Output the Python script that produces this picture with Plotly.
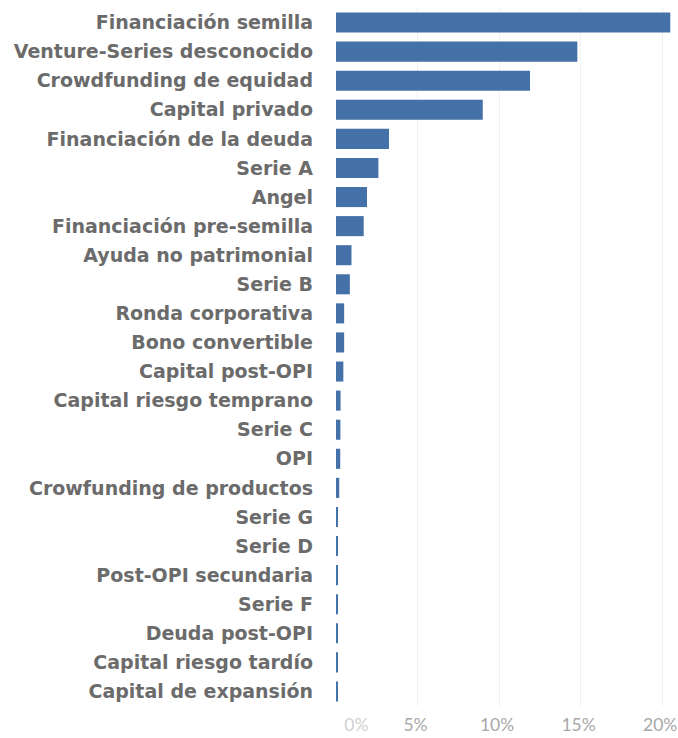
import plotly.graph_objects as go

# Funding round types and their share of total rounds (%)
categories = [
    "Financiación semilla",
    "Venture-Series desconocido",
    "Crowdfunding de equidad",
    "Capital privado",
    "Financiación de la deuda",
    "Serie A",
    "Angel",
    "Financiación pre-semilla",
    "Ayuda no patrimonial",
    "Serie B",
    "Ronda corporativa",
    "Bono convertible",
    "Capital post-OPI",
    "Capital riesgo temprano",
    "Serie C",
    "OPI",
    "Crowfunding de productos",
    "Serie G",
    "Serie D",
    "Post-OPI secundaria",
    "Serie F",
    "Deuda post-OPI",
    "Capital riesgo tardío",
    "Capital de expansión",
]
shares = [20.5, 14.8, 11.9, 9.0, 3.25, 2.6, 1.9, 1.7, 0.95, 0.85, 0.5, 0.5,
          0.45, 0.28, 0.27, 0.26, 0.2, 0.12, 0.12, 0.11, 0.1, 0.1, 0.09, 0.08]

tick_values = [0, 5, 10, 15, 20]
tick_names = ["0%", "5%", "10%", "15%", "20%"]

# first label sits right of the zero line and is drawn lighter
NBSP = "\u00a0"
tick_labels = list(tick_names)
tick_labels[0] = f'<span style="color:#d0d0d0">{NBSP * 10}{tick_names[0]}</span>'

fig = go.Figure(
    go.Bar(
        x=shares,
        y=categories,
        orientation="h",
        marker=dict(color="#4571a9", line=dict(width=0)),
        width=0.69,
    )
)

fig.update_layout(
    width=678,
    height=738,
    margin=dict(l=336, r=2, t=8, b=32),
    paper_bgcolor="white",
    plot_bgcolor="white",
    showlegend=False,
    bargap=0.31,
)

fig.update_yaxes(
    autorange="reversed",
    automargin=False,
    showgrid=False,
    showline=False,
    ticks="",
    ticklabelstandoff=22,
    tickfont=dict(family="DejaVu Sans", size=19, color="#6b6b6b", weight="bold"),
)

fig.update_xaxes(
    range=[0, 20.85],
    automargin=False,
    tickvals=tick_values,
    ticktext=tick_labels,
    showgrid=True,
    gridcolor="#f1f1f1",
    gridwidth=1,
    zeroline=True,
    zerolinecolor="white",
    showline=False,
    ticks="",
    ticklabelstandoff=6,
    ticklabelshift=-2,
    ticklabeloverflow="allow",
    tickfont=dict(family="Lato", size=17.5, color="#a8a8a8"),
)

fig.write_html("out.html")
